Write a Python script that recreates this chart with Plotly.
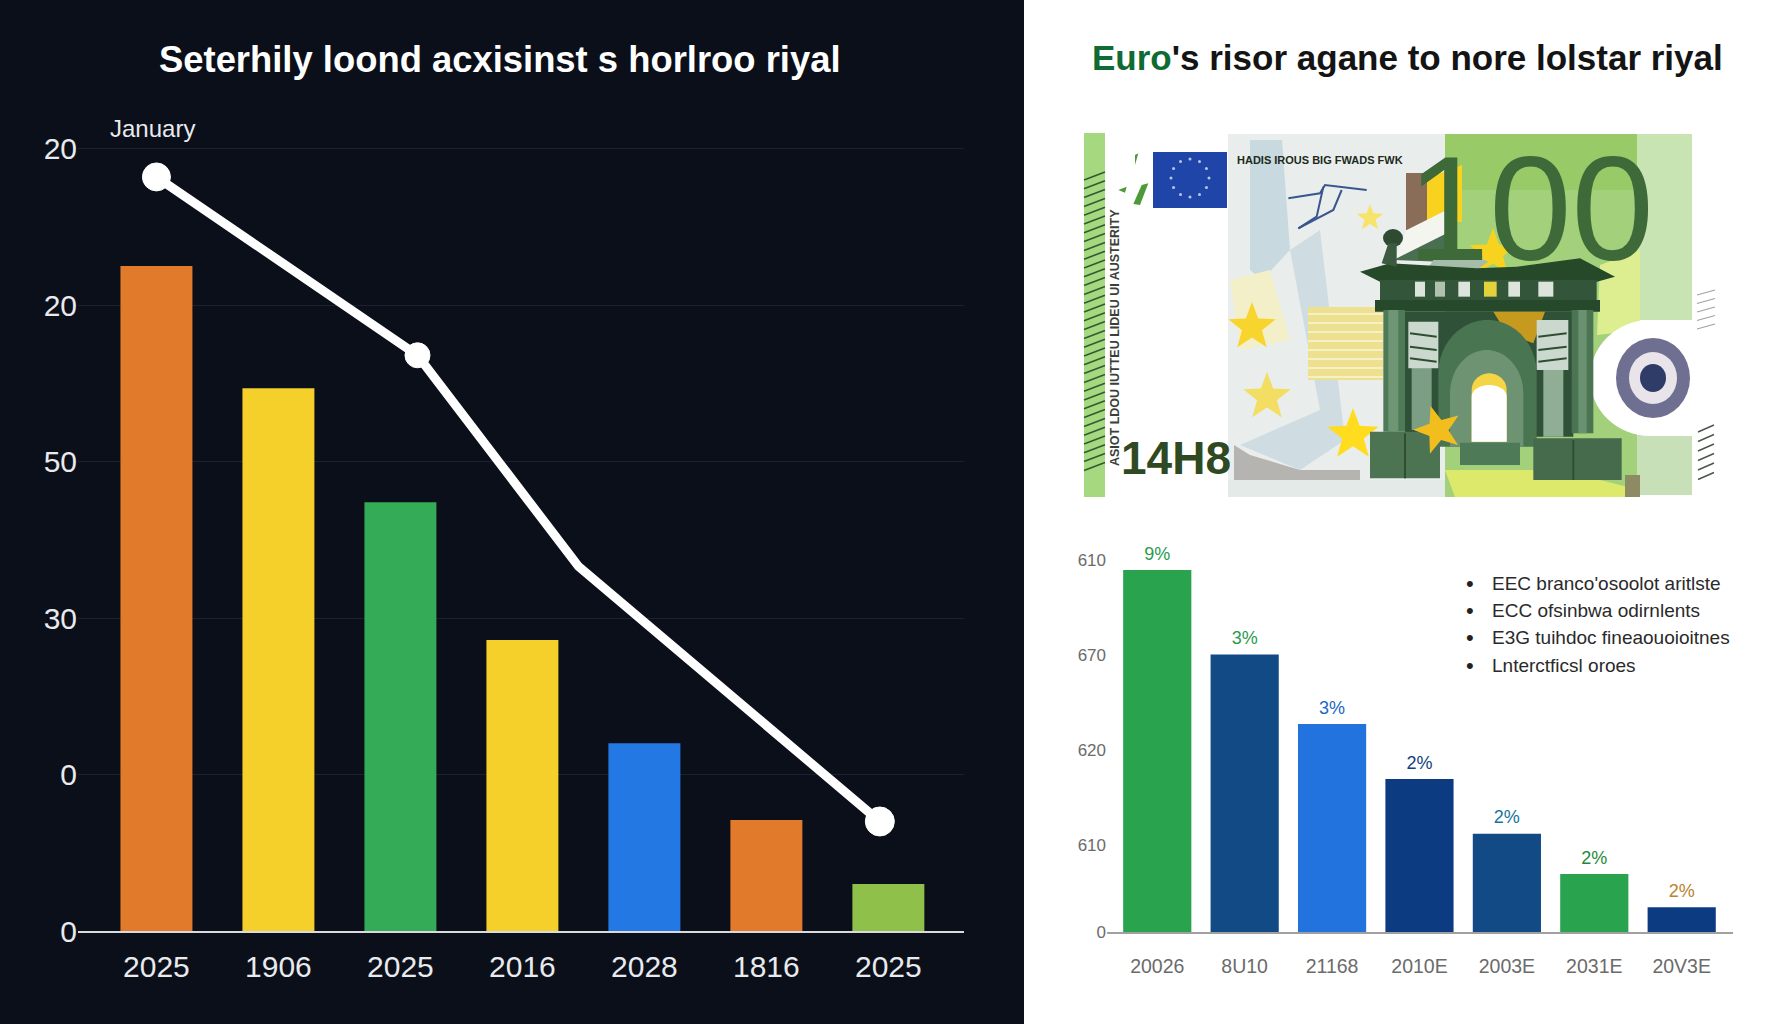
import numpy as np
import plotly.graph_objects as go

W, H = 1792, 1024

# left chart
left_title = "Seterhily loond acxisinst s horlroo riyal"
left_note = "January"
left_pos = [0, 1, 2, 3, 4, 5, 6]
left_labels = ["2025", "1906", "2025", "2016", "2028", "1816", "2025"]
left_values = [42.5, 34.7, 27.4, 18.6, 12.0, 7.1, 3.0]
left_colors = ["#E27A2B", "#F5CF2A", "#33AB57", "#F5CF2A", "#2378E4", "#E27A2B", "#8FC04A"]
left_ticks = [0, 10, 20, 30, 40, 50]
left_ticktext = ["0", "0", "30", "50", "20", "20"]
line_x = [0, 2.14, 3.46, 5.93]
line_y = [48.2, 36.8, 23.3, 7.0]
line_sizes = [28, 25, 0, 29]

# right chart
right_title_a = "Euro"
right_title_b = "'s risor agane to nore lolstar riyal"
right_pos = [0, 1, 2, 3, 4, 5, 6]
right_labels = ["20026", "8U10", "21168", "2010E", "2003E", "2031E", "20V3E"]
right_values = [381, 292, 219, 161, 103.5, 61, 26]
right_colors = ["#2AA34F", "#124A85", "#2273DE", "#0D3B82", "#124A85", "#2AA34F", "#0D3B82"]
right_pct = ["9%", "3%", "3%", "2%", "2%", "2%", "2%"]
right_pct_colors = ["#2A9A4F", "#2A9A4F", "#2266C2", "#123F7E", "#14759C", "#1F8A3A", "#B9822F"]
right_ticks = [0, 92, 192, 292, 391]
right_ticktext = ["0", "610", "620", "670", "610"]
bullets = ["EEC branco'osoolot aritlste", "ECC ofsinbwa odirnlents",
           "E3G tuihdoc fineaouoioitnes", "Lnterctficsl oroes"]

FONT = "Liberation Sans"
shapes = []
notes = []


def fx(x):
    return x / W


def fy(y):
    return 1 - y / H


def rect(x0, y0, x1, y1, color, layer="below"):
    shapes.append(dict(type="rect", xref="paper", yref="paper", x0=fx(x0), x1=fx(x1),
                       y0=fy(y0), y1=fy(y1), fillcolor=color, line_width=0, layer=layer))


def poly(pts, color):
    d = "M " + " L ".join(f"{fx(x):.5f} {fy(y):.5f}" for x, y in pts) + " Z"
    shapes.append(dict(type="path", xref="paper", yref="paper", path=d, fillcolor=color,
                       line_width=0, layer="below"))


def stroke(pts, color, width):
    d = "M " + " L ".join(f"{fx(x):.5f} {fy(y):.5f}" for x, y in pts)
    shapes.append(dict(type="path", xref="paper", yref="paper", path=d,
                       line=dict(color=color, width=width), layer="below"))


def oval(cx, cy, rx, ry, fill, line=None, width=0):
    shapes.append(dict(type="circle", xref="paper", yref="paper", x0=fx(cx - rx), x1=fx(cx + rx),
                       y0=fy(cy + ry), y1=fy(cy - ry), fillcolor=fill,
                       line=dict(color=line or fill, width=width), layer="below"))


def star(cx, cy, r, color, rot=0.0):
    a = np.pi / 2 + rot + np.arange(10) * np.pi / 5
    rr = np.where(np.arange(10) % 2 == 0, r, r * 0.42)
    poly(list(zip(cx + rr * np.cos(a), cy - rr * np.sin(a))), color)


def arch(x0, x1, base, top, spring, color):
    # column sides with a round top
    t = np.linspace(np.pi, 0, 24)
    cx, rx = (x0 + x1) / 2, (x1 - x0) / 2
    pts = [(x0, base)] + list(zip(cx + rx * np.cos(t), spring - (spring - top) * np.sin(t))) + [(x1, base)]
    poly(pts, color)


def text(x, y, s, size, color, bold=False, anchor="center", family=FONT, angle=0):
    notes.append(dict(xref="paper", yref="paper", x=fx(x), y=fy(y), text=f"<b>{s}</b>" if bold else s,
                      showarrow=False, xanchor=anchor, yanchor="middle", textangle=angle,
                      font=dict(family=family, size=size, color=color)))


def z7(x, y):
    return 1080 + x / 3, 130 + y / 3


def z8(x, y):
    return 1360 + x / 3, 130 + y / 3


def rect8(x0, y0, x1, y1, color):
    a, b = z8(x0, y0), z8(x1, y1)
    rect(a[0], a[1], b[0], b[1], color)


def poly8(pts, color):
    poly([z8(*p) for p in pts], color)


# dark panel
rect(0, 0, 1024, H, "#0B0F1A")

# banknote: paper tones
rect(1084, 133, 1105, 497, "#A6D97F")
rect(1228, 134, 1445, 497, "#E9EEEC")
poly([(1250, 140), (1282, 140), (1290, 250), (1262, 280), (1250, 270)], "#C9D9E0")
poly([(1290, 250), (1320, 230), (1345, 440), (1300, 470), (1240, 445), (1320, 410)], "#CFDDE2")
poly([(1230, 280), (1270, 270), (1290, 340), (1240, 350)], "#F3EFC8")
poly([(1234, 445), (1250, 455), (1300, 470), (1360, 470), (1360, 480), (1234, 480)], "#B6B4B0")
rect(1228, 480, 1445, 497, "#E4EAE8")
rect(1308, 307, 1383, 380, "#EDE190")
for y in range(314, 380, 9):
    stroke([(1308, y), (1383, y)], "#F7F5D8", 1.5)
rect(1445, 134, 1637, 497, "#A3D07A")
rect(1445, 134, 1637, 190, "#98CB68")
rect(1637, 134, 1692, 320, "#C8E4B2")
poly([(1600, 265), (1640, 250), (1640, 330), (1597, 335)], "#DDEE90")
rect(1637, 435, 1692, 495, "#C8E0B8")
poly([(1445, 470), (1560, 470), (1640, 490), (1640, 497), (1455, 497)], "#DCE96A")
oval(1650, 378, 60, 58, "#FFFFFF")
rect(1650, 320, 1705, 436, "#FFFFFF")
rect(1625, 475, 1640, 497, "#8E8A64")

# hatch lines on both edges
for y in np.arange(176, 474, 8.8):
    stroke([(1084, y + 4), (1105, y - 4)], "#2F5B33", 1.6)
for y in np.arange(292, 328, 8.5):
    stroke([(1697, y + 3), (1715, y - 2)], "#9FA3A0", 1.2)
for y in np.arange(428, 476, 9.5):
    stroke([(1698, y + 4), (1714, y - 3)], "#4C544C", 1.4)

# flag and leaves
rect(1153, 152, 1227, 208, "#1F45A8")
for a in np.arange(12) * np.pi / 6:
    oval(1190 + 19 * np.cos(a), 178 + 19 * np.sin(a), 1.5, 1.5, "#B9C6E6")
poly([z7(165, 75), z7(175, 70), z7(165, 105)], "#4E9A3A")
poly([z7(185, 165), z7(205, 160), z7(180, 225), z7(160, 222)], "#4E9A3A")
poly([z7(115, 180), z7(140, 170), z7(135, 188)], "#4E9A3A")

# dove and stars
stroke([z7(625, 205), z7(720, 190), z7(735, 165), z7(860, 180)], "#3A568F", 2)
stroke([z7(655, 295), z7(710, 260), z7(730, 170)], "#3A568F", 2)
stroke([z7(655, 295), z7(760, 240), z7(785, 180)], "#3A568F", 2)
star(1252, 327, 25, "#F8D52E")
star(1267, 397, 25, "#F3DE63")
star(1353, 435, 27, "#FFDC1E")
star(1370, 218, 14, "#F7E36B")
star(1493, 253, 25, "#F7D320")

# brown bar and page under the 100
rect(1406, 173, 1427, 230, "#8A6D58")
poly([(1427, 178), (1462, 165), (1462, 222), (1427, 222)], "#F8D21F")
poly8([(140, 300), (260, 240), (290, 330), (105, 390)], "#F4F5EF")

# building
poly8([(100, 390), (280, 300), (285, 350), (240, 395)], "#4A6E50")
poly8([(220, 390), (300, 360), (385, 395), (350, 420), (200, 420)], "#A4BCA9")
poly8([(0, 425), (90, 400), (350, 415), (470, 410), (660, 385), (765, 440), (700, 458), (60, 455)], "#26492A")
rect8(60, 450, 710, 515, "#33553A")
for x0, x1, c in [(165, 195, "#DCE4DB"), (225, 255, "#AFC2B0"), (295, 330, "#DCE4DB"),
                  (372, 410, "#E3D33B"), (445, 480, "#DCE4DB"), (535, 580, "#DCE4DB")]:
    rect8(x0, 455, x1, 500, c)
rect8(45, 510, 720, 545, "#26482B")
rect8(135, 545, 640, 920, "#2F5137")
poly8([(400, 545), (555, 545), (520, 640), (440, 610)], "#C69A1F")
rect8(70, 540, 135, 905, "#4F7A57")
rect8(85, 540, 115, 905, "#6E9675")
rect8(635, 540, 700, 910, "#4A7452")
rect8(655, 540, 680, 910, "#6A9271")
rect8(155, 700, 215, 900, "#7C9E82")
rect8(550, 720, 610, 920, "#8FAE94")
rect8(145, 575, 235, 715, "#CBD8CD")
rect8(530, 570, 625, 720, "#CBD8CD")
for y in (610, 650, 685):
    stroke([z8(150, y), z8(230, y + 10)], "#2E4E33", 2)
    stroke([z8(535, y + 10), z8(620, y)], "#2E4E33", 2)
a, b = z8(235, 950), z8(530, 570)
arch(a[0], b[0], a[1], b[1], z8(0, 730)[1], "#4A7551")
a, b = z8(270, 950), z8(490, 660)
arch(a[0], b[0], a[1], b[1], z8(0, 790)[1], "#6E9373")
a, b = z8(335, 935), z8(440, 730)
arch(a[0], b[0], a[1], b[1], z8(0, 780)[1], "#F3D545")
a, b = z8(335, 935), z8(440, 765)
arch(a[0], b[0], a[1], b[1], z8(0, 800)[1], "#FFFFFF")
rect8(300, 938, 480, 1005, "#4F7A57")
rect8(30, 905, 240, 1045, "#4C7352")
rect8(520, 925, 785, 1050, "#466B4C")
stroke([z8(135, 910), z8(135, 1045)], "#2E4E33", 2)
stroke([z8(640, 930), z8(640, 1050)], "#2E4E33", 2)
oval(1393, 238, 10, 9, "#2F4A33")
poly8([(65, 400), (85, 340), (110, 340), (110, 410)], "#3C5A40")
star(1438, 430, 25, "#F2BE1E", 0.3)

# seal
oval(1653, 378, 37, 40, "#6F6F92")
oval(1653, 378, 24, 26, "#E8E4EA")
oval(1653, 378, 13, 14, "#2F3C68")

# banknote text
text(1530, 208, "100", 148, "#3D6A38")
text(1176, 458, "14H8", 46, "#2F4A22", bold=True)
text(1320, 160, "HADIS IROUS BIG FWADS FWK", 11, "#1C2A20", bold=True)
text(1115, 338, "ASIOT LDOU IUTTEU LIDEU UI AUSTERITY", 12.5, "#3A4038", bold=True, angle=-90)

# titles and labels
text(500, 59, left_title, 36.4, "#FFFFFF", bold=True)
text(108, 128, left_note, 24, "#E8EAEE", anchor="left")
text(1407, 57, f'<span style="color:#0F6B33">{right_title_a}</span>{right_title_b}', 35, "#141414", bold=True)
for i, label in enumerate(bullets):
    y = [583, 610, 637, 665][i]
    text(1470, y, "•", 22, "#222222")
    text(1490, y, label, 19, "#2A2A2A", anchor="left")

fig = go.Figure()
fig.add_trace(go.Bar(x=left_pos, y=left_values, width=0.59, marker=dict(color=left_colors, line_width=0),
                     xaxis="x", yaxis="y", showlegend=False))
fig.add_trace(go.Scatter(x=line_x, y=line_y, mode="lines+markers", xaxis="x", yaxis="y", showlegend=False,
                         line=dict(color="#FFFFFF", width=9),
                         marker=dict(color="#FFFFFF", size=line_sizes, opacity=1)))
fig.add_trace(go.Bar(x=right_pos, y=right_values, width=0.78, marker=dict(color=right_colors, line_width=0),
                     xaxis="x2", yaxis="y2", showlegend=False))
# percent labels float a little above the bars
fig.add_trace(go.Scatter(x=right_pos, y=[v + 6 for v in right_values], mode="text", text=right_pct,
                         textposition="top center", cliponaxis=False,
                         textfont=dict(family=FONT, size=18, color=right_pct_colors),
                         xaxis="x2", yaxis="y2", showlegend=False))

fig.update_layout(
    width=W, height=H, margin=dict(l=0, r=0, t=0, b=0), autosize=False,
    paper_bgcolor="#FFFFFF", plot_bgcolor="rgba(0,0,0,0)", shapes=shapes, annotations=notes,
    xaxis=dict(domain=[fx(78), fx(964)], range=[-0.643, 6.62], tickvals=left_pos, ticktext=left_labels,
               showgrid=False, zeroline=False, showline=True, linecolor="#D8DADD", linewidth=2,
               ticks="outside", ticklen=8, tickcolor="rgba(0,0,0,0)", automargin=False,
               tickfont=dict(family=FONT, size=30, color="#E8EAEE"), anchor="y"),
    yaxis=dict(domain=[fy(931), fy(130)], range=[0, 51.2], tickvals=left_ticks, ticktext=left_ticktext,
               showgrid=True, gridcolor="#1B2130", gridwidth=1, zeroline=False, showline=False, automargin=False,
               tickfont=dict(family=FONT, size=30, color="#E8EAEE"), anchor="x"),
    xaxis2=dict(domain=[fx(1107), fx(1733)], range=[-0.575, 6.587], tickvals=right_pos, ticktext=right_labels,
                showgrid=False, zeroline=False, showline=True, linecolor="#A0A0A0", linewidth=1.5,
                ticks="outside", ticklen=16, tickcolor="rgba(0,0,0,0)", automargin=False,
                tickfont=dict(family=FONT, size=19.5, color="#6B6B6B"), anchor="y2"),
    yaxis2=dict(domain=[fy(932), fy(540)], range=[0, 412.6], tickvals=right_ticks, ticktext=right_ticktext,
                showgrid=False, zeroline=False, showline=False, automargin=False,
                tickfont=dict(family=FONT, size=17, color="#6B6B6B"), anchor="x2"),
)

fig.write_html("out.html", config={"displayModeBar": False},
               post_script="document.body.style.margin='0';")
